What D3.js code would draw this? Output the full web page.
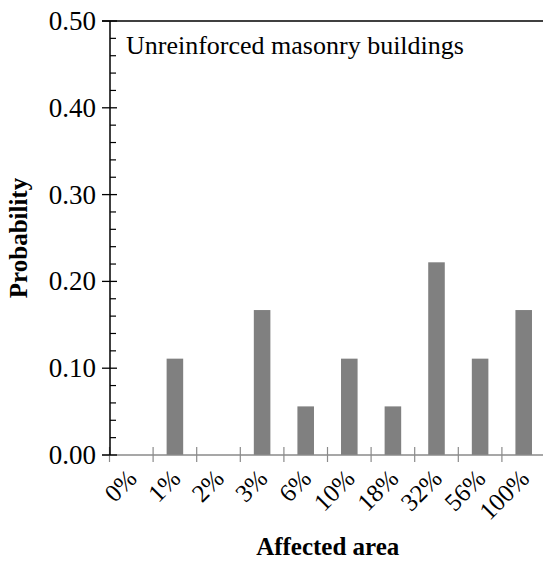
<!DOCTYPE html>
<html><head><meta charset="utf-8">
<script src="https://cdn.jsdelivr.net/npm/d3@7"></script>
</head><body style="margin:0">
<svg id="c" width="543" height="563" style="display:block">
<text x="126" y="54" font-size="26" font-family="Liberation Serif" fill="#000">Unreinforced masonry buildings</text>
</svg>
<script>
const categories = ["0%","1%","2%","3%","6%","10%","18%","32%","56%","100%"];
const probability = [0, 0.111, 0, 0.167, 0.056, 0.111, 0.056, 0.222, 0.111, 0.167];
const yTicks = [0, 0.1, 0.2, 0.3, 0.4, 0.5];

const FONT = "Liberation Serif";
const svg = d3.select("#c");
const L = 110, R = 545.5, T = 21, B = 455;
const x = d3.scaleBand().domain(categories).range([L - 0.5, R]).paddingInner(0.62).paddingOuter(0.31);
const y = d3.scaleLinear().domain([0, 0.5]).range([B, T]);
const step = x.step();

// bars
svg.append("g").selectAll("rect").data(categories).join("rect")
  .attr("x", d => x(d)).attr("width", x.bandwidth())
  .attr("y", (d,i) => y(probability[i])).attr("height", (d,i) => B - y(probability[i]))
  .attr("fill", "#808080");

// x axis (gray)
svg.append("line").attr("x1", 102).attr("x2", 543).attr("y1", B).attr("y2", B)
  .attr("stroke", "#8a8a8a").attr("stroke-width", 1.5);
const bounds = d3.range(categories.length).map(i => L - 0.5 + i * step);
svg.append("g").selectAll("line").data(bounds).join("line")
  .attr("x1", d => d).attr("x2", d => d).attr("y1", B - 8).attr("y2", B + 7)
  .attr("stroke", "#8a8a8a").attr("stroke-width", 1.2);

// x labels
categories.forEach(c => {
  svg.append("text")
    .attr("transform", `translate(${x(c) + x.bandwidth()/2 + 7},${B + 25}) rotate(-45)`)
    .attr("text-anchor", "end").attr("font-size", 25).attr("font-family", FONT).attr("fill", "#000").text(c);
});

// top line
svg.append("line").attr("x1", 102).attr("x2", 543).attr("y1", T).attr("y2", T)
  .attr("stroke", "#000").attr("stroke-width", 1.5);

// y axis line and ticks
svg.append("line").attr("x1", L).attr("x2", L).attr("y1", T).attr("y2", B).attr("stroke", "#000").attr("stroke-width", 1.5);
yTicks.forEach(v => {
  svg.append("line").attr("x1", L - 8).attr("x2", L + 7).attr("y1", y(v)).attr("y2", y(v)).attr("stroke", "#000").attr("stroke-width", 1.3);
  svg.append("text").attr("x", L - 14).attr("y", y(v) + 9).attr("text-anchor", "end")
    .attr("font-size", 27).attr("font-family", FONT).attr("fill", "#000").text(d3.format(".2f")(v));
});
const minor = d3.range(0, 0.5001, 0.02).filter(v => Math.abs(v*10 - Math.round(v*10)) > 1e-6);
minor.forEach(v => {
  svg.append("line").attr("x1", L).attr("x2", L + 6).attr("y1", y(v)).attr("y2", y(v))
    .attr("stroke", "#000").attr("stroke-width", 1.2);
});

// axis titles
svg.append("text").attr("x", (L + R)/2).attr("y", 555).attr("text-anchor", "middle").attr("font-family", FONT)
  .attr("font-size", 25).attr("font-weight", "bold").attr("fill", "#000").text("Affected area");
svg.append("text").attr("transform", `translate(27,${(T + B)/2}) rotate(-90)`).attr("text-anchor", "middle").attr("font-family", FONT)
  .attr("font-size", 25).attr("font-weight", "bold").attr("fill", "#000").text("Probability");
</script></body></html>
